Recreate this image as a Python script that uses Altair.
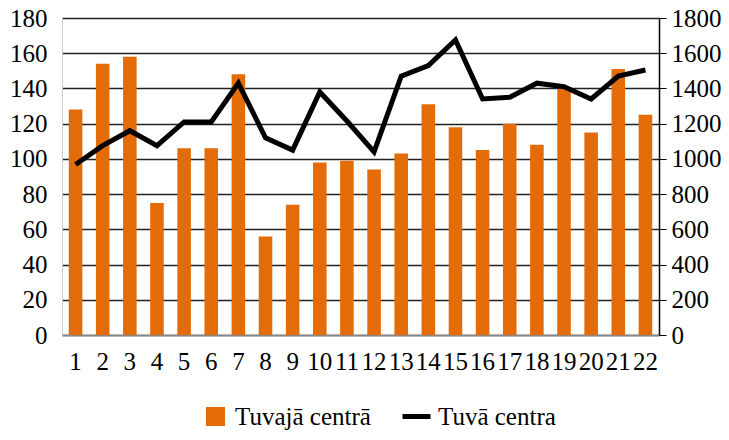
import altair as alt
import pandas as pd

categories = [str(i) for i in range(1, 23)]
tuvaja_centra = [128, 154, 158, 75, 106, 106, 148, 56, 74, 98, 99, 94, 103, 131, 118, 105, 120, 108, 140, 115, 151, 125]
tuva_centra = [968, 1075, 1160, 1075, 1210, 1210, 1430, 1120, 1050, 1380, 1215, 1040, 1470, 1530, 1675, 1340, 1350, 1430, 1410, 1340, 1470, 1505]

df = pd.DataFrame({"cat": categories, "bar": tuvaja_centra, "line": tuva_centra})

FONT = "Liberation Serif"
AX = 25
LG = 25
x = alt.X("cat:N", sort=categories, title=None,
          scale=alt.Scale(paddingInner=0.5, paddingOuter=0.25),
          axis=alt.Axis(labelAngle=0, labelFontSize=AX, labelFont=FONT, labelColor="#000",
                        ticks=False, domainColor="#888", domainWidth=1.5,
                        labelPadding=14, labelOverlap=False))

bars = alt.Chart(df).mark_bar(color="#E36C09").encode(
    x=x,
    y=alt.Y("bar:Q", title=None,
            scale=alt.Scale(domain=[0, 180]),
            axis=alt.Axis(values=list(range(0, 181, 20)), labelFontSize=AX, labelFont=FONT,
                          labelColor="#000", ticks=False, domainColor="#ccc",
                          labelPadding=15, grid=True, gridColor="#222", gridWidth=1.5)),
    fill=alt.Fill("lbl:N", scale=alt.Scale(domain=["Tuvajā centrā"], range=["#E36C09"]),
                  legend=alt.Legend(title=None, orient="none", legendX=141, legendY=386,
                                    padding=0, symbolType="square",
                                    symbolSize=361, labelFontSize=LG, labelFont=FONT,
                                    labelColor="#000", symbolStrokeWidth=0, labelOffset=7)),
).transform_calculate(lbl="'Tuvajā centrā'")

line = alt.Chart(df).mark_line(color="#000", strokeWidth=5).encode(
    x=x,
    y=alt.Y("line:Q", title=None,
            scale=alt.Scale(domain=[0, 1800]),
            axis=alt.Axis(orient="right", values=list(range(0, 1801, 200)), format="d",
                          labelFontSize=AX, labelFont=FONT, labelColor="#000", ticks=True,
                          tickSize=7, tickColor="#000", domainColor="#000", domainWidth=1.5,
                          labelPadding=5, grid=False)),
    stroke=alt.Stroke("lbl:N", scale=alt.Scale(domain=["Tuvā centra"], range=["#000"]),
                      legend=alt.Legend(title=None, orient="none", legendX=338, legendY=382,
                                        padding=0, symbolType="stroke",
                                        symbolSize=784, symbolStrokeWidth=5,
                                        labelFontSize=LG, labelFont=FONT, labelColor="#000",
                                        labelOffset=5)),
).transform_calculate(lbl="'Tuvā centra'")

chart = alt.layer(bars, line).resolve_scale(
    y="independent", fill="independent", stroke="independent"
).properties(
    width=597, height=317,
    autosize=alt.AutoSizeParams(type="none"),
    padding={"left": 54, "top": 10, "right": 62, "bottom": 97},
).configure_view(stroke=None).configure(font=FONT)

chart.save("out.html", embed_options={"renderer": "svg", "actions": False})
